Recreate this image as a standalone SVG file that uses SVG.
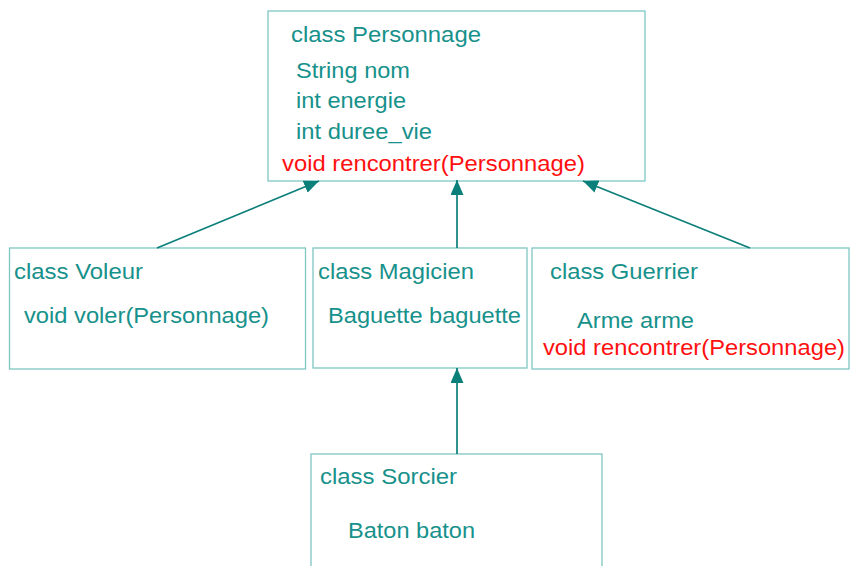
<svg xmlns="http://www.w3.org/2000/svg" width="850" height="566" viewBox="0 0 850 566">
  <style>
    .box { fill: #ffffff; stroke: #7ec6c4; stroke-width: 1.3; }
    .t { font-family: "Liberation Sans", Arial, sans-serif; font-size: 22px; fill: #17918b; }
    .red { fill: #ff1010; }
    .link { stroke: #0b7f7a; stroke-width: 1.7; fill: none; marker-end: url(#head); }
  </style>
  <defs>
    <marker id="head" markerUnits="userSpaceOnUse" markerWidth="16" markerHeight="14" refX="15" refY="6.5" orient="auto">
      <path d="M0,0 L15,6.5 L0,13 Z" fill="#0b7f7a"/>
    </marker>
  </defs>
  <rect width="850" height="566" fill="#ffffff"/>

  <g id="personnage">
    <rect class="box" x="268" y="11" width="377" height="170"/>
    <text class="t" x="291" y="42" textLength="190" lengthAdjust="spacingAndGlyphs">class Personnage</text>
    <text class="t" x="296" y="78" textLength="114" lengthAdjust="spacingAndGlyphs">String nom</text>
    <text class="t" x="296" y="108" textLength="110" lengthAdjust="spacingAndGlyphs">int energie</text>
    <text class="t" x="296" y="139" textLength="136" lengthAdjust="spacingAndGlyphs">int duree_vie</text>
    <text class="t red" x="282" y="171" textLength="303" lengthAdjust="spacingAndGlyphs">void rencontrer(Personnage)</text>
  </g>

  <g id="voleur">
    <rect class="box" x="9.5" y="248" width="296" height="121"/>
    <text class="t" x="14" y="279" textLength="129" lengthAdjust="spacingAndGlyphs">class Voleur</text>
    <text class="t" x="24" y="323" textLength="245" lengthAdjust="spacingAndGlyphs">void voler(Personnage)</text>
  </g>

  <g id="magicien">
    <rect class="box" x="313" y="248" width="214" height="120"/>
    <text class="t" x="318" y="279" textLength="156" lengthAdjust="spacingAndGlyphs">class Magicien</text>
    <text class="t" x="328" y="323" textLength="193" lengthAdjust="spacingAndGlyphs">Baguette baguette</text>
  </g>

  <g id="guerrier">
    <rect class="box" x="532" y="248" width="317" height="121"/>
    <text class="t" x="550" y="279" textLength="148" lengthAdjust="spacingAndGlyphs">class Guerrier</text>
    <text class="t" x="577" y="328" textLength="117" lengthAdjust="spacingAndGlyphs">Arme arme</text>
    <text class="t red" x="543" y="355" textLength="302" lengthAdjust="spacingAndGlyphs">void rencontrer(Personnage)</text>
  </g>

  <g id="sorcier">
    <rect class="box" x="311" y="454" width="291" height="130"/>
    <text class="t" x="320" y="484" textLength="137" lengthAdjust="spacingAndGlyphs">class Sorcier</text>
    <text class="t" x="348" y="538" textLength="127" lengthAdjust="spacingAndGlyphs">Baton baton</text>
  </g>

  <g id="connectors">
    <line class="link" x1="157" y1="248" x2="319" y2="181"/>
    <line class="link" x1="457" y1="248" x2="457" y2="180"/>
    <line class="link" x1="750" y1="248" x2="583" y2="181"/>
    <line class="link" x1="457" y1="454" x2="457" y2="368"/>
  </g>
</svg>
